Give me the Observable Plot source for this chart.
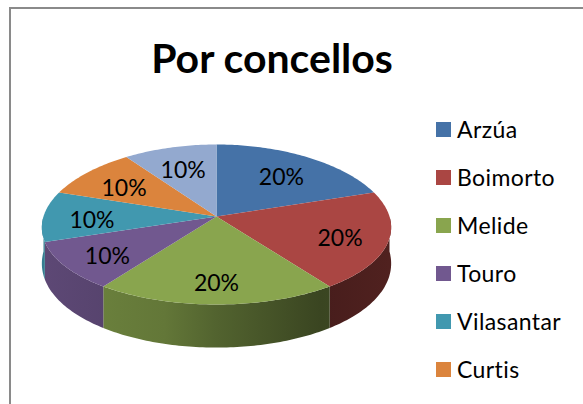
<!DOCTYPE html>
<html>
<head>
<meta charset="utf-8">
<script src="https://cdn.jsdelivr.net/npm/d3@7"></script>
<script src="https://cdn.jsdelivr.net/npm/@observablehq/plot@0.6"></script>
<style>
  html, body { margin: 0; padding: 0; background: #fff; }
  #frame { position: relative; width: 583px; height: 404px; overflow: hidden; font-family: Lato, "Open Sans", sans-serif; }
  #border { position: absolute; left: 9px; top: 7px; width: 700px; height: 500px; border-left: 2px solid #8a8a8a; border-top: 2px solid #8a8a8a; box-sizing: border-box; }
  #title { position: absolute; left: 0; width: 544px; top: 30px; text-align: center; font-weight: bold; font-size: 41px; line-height: 56px; color: #000; }
  #chart { position: absolute; left: 0; top: 0; }
  #legend { position: absolute; left: 436px; top: 0; }
  .item { position: absolute; left: 0; white-space: nowrap; font-size: 23px; line-height: 26px; letter-spacing: 0.4px; color: #000; }
  .sw { position: absolute; left: 0; top: 6px; width: 15px; height: 15px; }
  .lab { position: absolute; left: 21px; top: 0; }
</style>
</head>
<body>
<div id="frame">
  <div id="border"></div>
  <div id="title">Por concellos</div>
  <div id="chart"></div>
  <div id="legend"></div>
</div>
<script>
// ---- data ----
const names  = ["Arzúa", "Boimorto", "Melide", "Touro", "Vilasantar", "Curtis", "Sobrado"];
const values = [20, 20, 20, 10, 10, 10, 10];
const colors = ["#4572A7", "#AA4643", "#89A54E", "#71588F", "#4198AF", "#DB843D", "#93A9CF"];

// ---- layout (pixels) ----
const W = 583, H = 404;
const G = {cx: 216, cy: 216, rx: 173, ry: 80, kx: 0.14, ky: 0.10, d0: 35, kd: 0.23};
const labelR = 0.72, labelDy = 4;

function topPt(a, r) {
  const s = Math.sin(a), c = Math.cos(a);
  return [G.cx + r * G.rx * s * (1 - G.kx * c), G.cy - r * G.ry * c * (1 - G.ky * c)];
}
function depth(a) { return G.d0 * (1 - G.kd * Math.cos(a)); }

const total = d3.sum(values);
const arcs = d3.pie().sort(null).value(d => d)(values);

const topRows = [], sideRows = [], labelRows = [];
arcs.forEach((a, i) => {
  const key = names[i];
  const n = Math.max(2, Math.ceil((a.endAngle - a.startAngle) / (Math.PI / 180)));
  const c0 = topPt(0, 0);
  topRows.push({key, x: c0[0], y: c0[1]});
  for (let k = 0; k <= n; k++) {
    const t = a.startAngle + (a.endAngle - a.startAngle) * k / n;
    const p = topPt(t, 1);
    topRows.push({key, x: p[0], y: p[1]});
  }
  // side (front half only)
  const lo = Math.max(a.startAngle, Math.PI / 2), hi = Math.min(a.endAngle, 3 * Math.PI / 2);
  if (hi > lo) {
    const m = Math.max(2, Math.ceil((hi - lo) / (Math.PI / 180)));
    const pts = [];
    for (let k = 0; k <= m; k++) {
      const t = lo + (hi - lo) * k / m;
      const p = topPt(t, 1);
      pts.push({i, key, x: p[0], y: p[1]});
    }
    for (let k = m; k >= 0; k--) {
      const t = lo + (hi - lo) * k / m;
      const p = topPt(t, 1);
      pts.push({i, key, x: p[0], y: p[1] + depth(t)});
    }
    sideRows.push(...pts);
  }
  const mid = (a.startAngle + a.endAngle) / 2;
  const lp = topPt(mid, labelR);
  labelRows.push({key, x: lp[0], y: lp[1] + labelDy, text: Math.round(values[i] / total * 100) + "%"});
});

const sideSlices = [...new Set(sideRows.map(d => d.i))];

const plot = Plot.plot({
  width: W, height: H, margin: 0,
  style: {background: "transparent", overflow: "visible"},
  x: {domain: [0, W], range: [0, W], axis: null},
  y: {domain: [0, H], range: [0, H], axis: null},
  color: {domain: names, range: colors},
  marks: [
    ...sideSlices.map(i => Plot.line(sideRows.filter(d => d.i === i), {
      x: "x", y: "y", fill: `url(#side${i})`, stroke: "none"
    })),
    Plot.line(topRows, {x: "x", y: "y", z: "key", fill: "key", stroke: "none"}),
    Plot.text(labelRows, {x: "x", y: "y", text: "text", fontSize: 23, fontFamily: "Lato, sans-serif", fill: "#000"})
  ]
});

// side gradients (lighting), horizontal across the pie
const xs = plot.scale("x");
const x1 = xs.apply(G.cx - G.rx), x2 = xs.apply(G.cx + G.rx);
const shade = [[0, 0.82], [0.35, 0.72], [0.5, 0.6], [0.8, 0.42], [1, 0.47]];
let defs = "<defs>";
sideSlices.forEach(i => {
  const c = d3.color(colors[i]);
  defs += `<linearGradient id="side${i}" gradientUnits="userSpaceOnUse" x1="${x1}" y1="0" x2="${x2}" y2="0">`;
  shade.forEach(([o, f]) => {
    const s = d3.rgb(c.r * f, c.g * f, c.b * f);
    defs += `<stop offset="${o}" stop-color="${s.formatHex()}"/>`;
  });
  defs += "</linearGradient>";
});
defs += "</defs>";
plot.insertAdjacentHTML("afterbegin", defs);
document.getElementById("chart").appendChild(plot);

// legend (entries that fall below the frame are not visible in the reference)
const legend = document.getElementById("legend");
names.forEach((nm, i) => {
  const top = 116 + 48 * i;
  if (top + 26 > H) return;
  const it = document.createElement("div");
  it.className = "item";
  it.style.top = top + "px";
  it.innerHTML = `<div class="sw" style="background:${colors[i]}"></div><div class="lab"></div>`;
  it.querySelector(".lab").textContent = nm;
  legend.appendChild(it);
});
</script>
</body>
</html>
